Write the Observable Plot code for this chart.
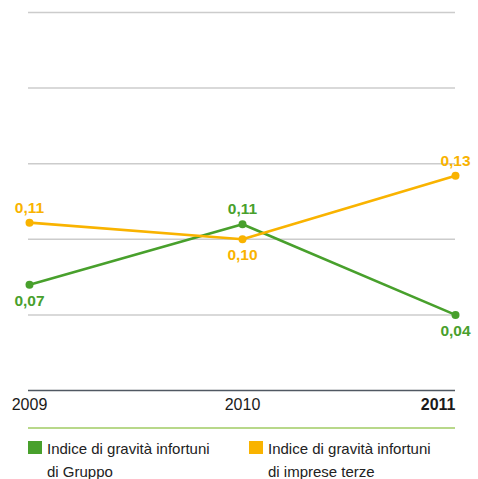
<!DOCTYPE html>
<html>
<head>
<meta charset="utf-8">
<script src="https://cdn.jsdelivr.net/npm/d3@7"></script>
<script src="https://cdn.jsdelivr.net/npm/@observablehq/plot@0.6"></script>
<style>
  body { margin: 0; background: #fff; font-family: "Liberation Sans", Arial, sans-serif; }
  #chart svg { display: block; }
  .rule { margin-left: 28px; width: 427px; border-top: 2px solid #b8d88a; margin-top: 7px; }
  .legend { display: flex; margin-left: 28px; margin-top: 8px; font-size: 15px; color: #222; line-height: 23px; }
  .item { display: flex; align-items: flex-start; }
  .sw { width: 14px; height: 13px; margin-top: 4px; margin-right: 5px; flex: none; }
</style>
</head>
<body>
<div id="chart"></div>
<div class="rule"></div>
<div class="legend" id="legend"></div>
<script>
const years = [2009, 2010, 2011];
const seriesNames = ["Indice di gravità infortuni di Gruppo", "Indice di gravità infortuni di imprese terze"];
const legendLines = [["Indice di gravità infortuni", "di Gruppo"], ["Indice di gravità infortuni", "di imprese terze"]];
const groupValues = [0.070, 0.110, 0.050];
const thirdValues = [0.111, 0.100, 0.142];
const groupLabels = ["0,07", "0,11", "0,04"];
const thirdLabels = ["0,11", "0,10", "0,13"];
const colors = ["#48a02c", "#f9b300"];
const gridTicks = [0.05, 0.10, 0.15, 0.20, 0.25];

const data = [];
years.forEach((y, i) => {
  data.push({year: y, value: groupValues[i], label: groupLabels[i], series: seriesNames[0],
    above: groupValues[i] > thirdValues[i]});
  data.push({year: y, value: thirdValues[i], label: thirdLabels[i], series: seriesNames[1],
    above: thirdValues[i] > groupValues[i]});
});

const lastYear = years[years.length - 1];
const chart = Plot.plot({
  width: 478,
  height: 420,
  marginLeft: 28,
  marginRight: 23,
  marginTop: 12,
  marginBottom: 30,
  x: {type: "point", domain: years, padding: 0, axis: null},
  y: {domain: [0, 0.25], axis: null},
  color: {domain: seriesNames, range: colors},
  style: {fontFamily: "'Liberation Sans', Arial, sans-serif", background: "white"},
  marks: [
    Plot.ruleY(gridTicks, {stroke: "#cccccc", strokeWidth: 1.5}),
    Plot.ruleY([0], {stroke: "#505862", strokeWidth: 1.5}),
    Plot.line(data, {x: "year", y: "value", stroke: "series", z: "series", strokeWidth: 2.6}),
    Plot.dot(data, {x: "year", y: "value", fill: "series", r: 4}),
    Plot.text(data.filter(d => d.above), {x: "year", y: "value", text: "label", fill: "series",
      dy: -15, fontSize: 15.5, fontWeight: "bold"}),
    Plot.text(data.filter(d => !d.above), {x: "year", y: "value", text: "label", fill: "series",
      dy: 16, fontSize: 15.5, fontWeight: "bold"}),
    Plot.text(years.filter(d => d !== lastYear), {x: d => d, frameAnchor: "bottom", dy: 19, text: d => String(d),
      textAnchor: d => d === years[0] ? "start" : "middle",
      fontSize: 16, fill: "#1a1a1a"}),
    Plot.text([lastYear], {x: d => d, frameAnchor: "bottom", dy: 19, text: d => String(d),
      textAnchor: "end", fontWeight: "bold", fontSize: 16, fill: "#1a1a1a"})
  ]
});
document.getElementById("chart").appendChild(chart);

const legend = document.getElementById("legend");
seriesNames.forEach((s, i) => {
  const item = document.createElement("div");
  item.className = "item";
  item.style.width = i === 0 ? "221px" : "200px";
  const sw = document.createElement("div");
  sw.className = "sw";
  sw.style.background = colors[i];
  const txt = document.createElement("div");
  txt.innerHTML = legendLines[i].join("<br>");
  item.appendChild(sw);
  item.appendChild(txt);
  legend.appendChild(item);
});
</script>
</body>
</html>
